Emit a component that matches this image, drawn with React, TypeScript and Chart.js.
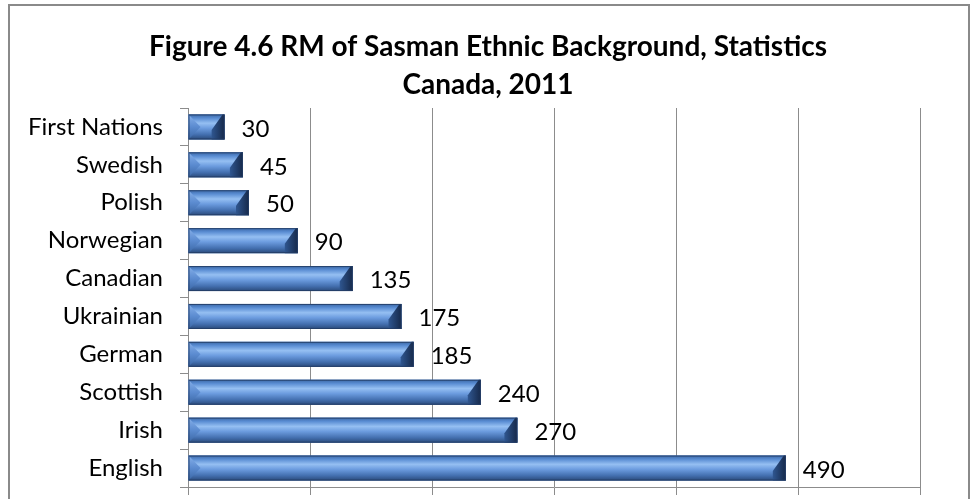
import React, { useEffect, useRef } from "react";
import { Chart, registerables } from "chart.js";

Chart.register(...registerables);

const categories = [
  "First Nations",
  "Swedish",
  "Polish",
  "Norwegian",
  "Canadian",
  "Ukrainian",
  "German",
  "Scottish",
  "Irish",
  "English",
];
const values = [30, 45, 50, 90, 135, 175, 185, 240, 270, 490];
const titleLines = [
  "Figure 4.6 RM of Sasman Ethnic Background, Statistics",
  "Canada, 2011",
];
const xMin = 0;
const xMax = 600;
const xStep = 100;

const FONT = "Lato, 'Open Sans', sans-serif";
const GRID = "#8c8c8c";

const frame = {
  id: "frame",
  beforeDraw(chart: any) {
    const c = chart.ctx;
    c.save();
    c.fillStyle = "#ffffff";
    c.fillRect(0, 0, chart.width, chart.height);
    c.strokeStyle = "#8a8a8a";
    c.lineWidth = 2;
    c.strokeRect(9, 5, 960, 520);
    c.restore();
  },
};

const barStyle = {
  id: "barStyle",
  afterDatasetsDraw(chart: any) {
    const c = chart.ctx;
    const meta = chart.getDatasetMeta(0);
    meta.data.forEach((el: any) => {
      const { x, y, base, height } = el.getProps(["x", "y", "base", "height"], true);
      const top = y - height / 2;
      const bot = y + height / 2;
      const left = Math.min(base, x);
      const right = Math.max(base, x);
      c.save();
      const g = c.createLinearGradient(0, top, 0, bot);
      g.addColorStop(0, "#3a67a6");
      g.addColorStop(0.15, "#5a8dd3");
      g.addColorStop(0.35, "#95bff2");
      g.addColorStop(0.55, "#6c9cdf");
      g.addColorStop(0.8, "#4470b0");
      g.addColorStop(1, "#2a4a7a");
      c.fillStyle = g;
      c.fillRect(left, top, right - left, height);
      const b = Math.min(12, (right - left) / 2);
      // left bevel
      c.beginPath();
      c.moveTo(left, top);
      c.lineTo(left + b, y);
      c.lineTo(left, bot);
      c.closePath();
      const gl = c.createLinearGradient(0, top, 0, bot);
      gl.addColorStop(0, "#86b0ea");
      gl.addColorStop(0.5, "#5b8bd0");
      gl.addColorStop(1, "#3a66a4");
      c.fillStyle = gl;
      c.fill();
      // right bevel
      const rb = Math.min(13, (right - left) / 2);
      c.beginPath();
      c.moveTo(right - 2, top);
      c.lineTo(right, top);
      c.lineTo(right, bot);
      c.lineTo(right - rb, bot);
      c.lineTo(right - rb, y + 3);
      c.closePath();
      const gr = c.createLinearGradient(right - rb, 0, right, 0);
      gr.addColorStop(0, "#2f5690");
      gr.addColorStop(1, "#16294a");
      c.fillStyle = gr;
      c.fill();
      c.strokeStyle = "rgba(35,60,100,0.85)";
      c.lineWidth = 1;
      c.strokeRect(left + 0.5, top + 0.5, right - left - 1, height - 1);
      c.restore();
    });
  },
};

const valueLabels = {
  id: "valueLabels",
  afterDatasetsDraw(chart: any) {
    const c = chart.ctx;
    const meta = chart.getDatasetMeta(0);
    const data = chart.data.datasets[0].data;
    c.save();
    c.fillStyle = "#000000";
    c.font = `24px ${FONT}`;
    c.textAlign = "left";
    c.textBaseline = "middle";
    meta.data.forEach((el: any, i: number) => {
      const { x, y } = el.getProps(["x", "y"], true);
      c.fillText(String(data[i]), x + 17, y + 2);
    });
    c.restore();
  },
};

export default function App() {
  const ref = useRef<HTMLCanvasElement | null>(null);
  useEffect(() => {
    if (!ref.current) return;
    const chart = new Chart(ref.current, {
      type: "bar",
      data: {
        labels: categories,
        datasets: [
          {
            data: values,
            backgroundColor: "#5b8bd0",
            borderWidth: 0,
            barPercentage: 0.66,
            categoryPercentage: 1,
          },
        ],
      },
      options: {
        indexAxis: "y",
        responsive: false,
        animation: false,
        layout: { padding: { left: 0, right: 0, top: 0, bottom: 0 } },
        plugins: {
          legend: { display: false },
          tooltip: { enabled: false },
          title: {
            display: true,
            text: titleLines,
            color: "#000000",
            font: { family: FONT, size: 28, weight: "bold", lineHeight: "38px" },
            padding: { top: 28, bottom: 4 },
          },
        },
        scales: {
          x: {
            min: xMin,
            max: xMax,
            ticks: { display: false, stepSize: xStep },
            grid: { color: GRID, lineWidth: 1, tickLength: 8, drawTicks: true },
            border: { display: true, color: GRID, width: 1 },
            afterFit: (s: any) => {
              s.height = 12;
              s.paddingLeft = 0;
              s.paddingRight = 0;
            },
          },
          y: {
            type: "category",
            ticks: {
              color: "#000000",
              font: { family: FONT, size: 24 },
              padding: 17,
            },
            grid: {
              offset: true,
              drawOnChartArea: false,
              color: GRID,
              tickLength: 8,
            },
            border: { display: true, color: GRID, width: 1 },
            afterFit: (s: any) => {
              s.width = 188;
              s.paddingTop = 0;
              s.paddingBottom = 0;
            },
          },
          yRight: {
            type: "linear",
            position: "right",
            ticks: { display: false },
            grid: { display: false, drawTicks: false },
            border: { display: false },
            afterFit: (s: any) => {
              s.width = 56;
              s.paddingTop = 0;
              s.paddingBottom = 0;
            },
          },
        },
      },
      plugins: [frame, barStyle, valueLabels],
    });
    return () => chart.destroy();
  }, []);
  return (
    <div style={{ position: "fixed", left: 0, top: 0, width: 976, height: 499 }}>
      <canvas ref={ref} width={976} height={499} style={{ display: "block" }} />
    </div>
  );
}
